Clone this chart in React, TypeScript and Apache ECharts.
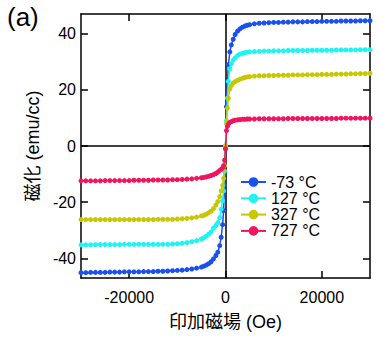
import React, { useEffect, useRef } from "react";
import * as echarts from "echarts";

const fieldOe = [
  -30000, -29000, -28000, -27000, -26000, -25000, -24000, -23000, -22000, -21000,
  -20000, -19000, -18000, -17000, -16000, -15000, -14000, -13000, -12000, -11000,
  -10000, -9000, -8000, -7000, -6000, -5000, -4500, -4000, -3500, -3000,
  -2500, -2000, -1600, -1200, -900, -600, -400, -200, 0, 200,
  400, 600, 900, 1200, 1600, 2000, 2500, 3000, 3500, 4000,
  4500, 5000, 6000, 7000, 8000, 9000, 10000, 11000, 12000, 13000,
  14000, 15000, 16000, 17000, 18000, 19000, 20000, 21000, 22000, 23000,
  24000, 25000, 26000, 27000, 28000, 29000, 30000,
];

const mBlue = [
  -45.1, -45.1, -45.0, -45.0, -45.0, -45.0, -44.9, -44.9, -44.9, -44.8,
  -44.8, -44.8, -44.8, -44.7, -44.7, -44.7, -44.6, -44.6, -44.5, -44.4,
  -44.3, -44.2, -44.0, -43.8, -43.5, -43.1, -42.8, -42.4, -41.9, -41.2,
  -40.2, -39.0, -37.8, -35.5, -32.5, -28.0, -23.0, -14.0, -1.0, 14.0,
  23.0, 29.0, 33.5, 36.0, 38.0, 39.7, 40.9, 41.7, 42.3, 42.7,
  43.0, 43.2, 43.5, 43.7, 43.8, 43.9, 44.0, 44.0, 44.1, 44.1,
  44.2, 44.2, 44.2, 44.3, 44.3, 44.3, 44.4, 44.4, 44.4, 44.4,
  44.5, 44.5, 44.5, 44.5, 44.6, 44.6, 44.6,
];

const mCyan = [
  -35.2, -35.2, -35.2, -35.1, -35.1, -35.1, -35.1, -35.1, -35.1, -35.0,
  -35.0, -35.0, -35.0, -35.0, -35.0, -35.0, -35.0, -35.0, -35.0, -34.9,
  -34.8, -34.6, -34.4, -34.1, -33.7, -33.1, -32.7, -32.1, -31.4, -30.6,
  -29.3, -28.3, -27.3, -25.5, -22.5, -19.5, -16.0, -9.0, 0.0, 9.0,
  17.0, 23.0, 27.5, 29.3, 30.6, 31.4, 32.2, 32.7, 33.0, 33.2,
  33.4, 33.5, 33.6, 33.7, 33.8, 33.8, 33.9, 33.9, 33.9, 34.0,
  34.0, 34.0, 34.0, 34.0, 34.1, 34.1, 34.1, 34.1, 34.1, 34.2,
  34.2, 34.2, 34.2, 34.2, 34.3, 34.3, 34.3,
];

const mYellow = [
  -26.2, -26.2, -26.2, -26.2, -26.2, -26.2, -26.2, -26.2, -26.2, -26.2,
  -26.2, -26.2, -26.2, -26.2, -26.2, -26.2, -26.1, -26.1, -26.1, -26.1,
  -26.0, -25.9, -25.8, -25.6, -25.3, -24.9, -24.7, -24.3, -23.8, -23.2,
  -22.3, -21.0, -19.8, -18.0, -16.0, -14.0, -11.5, -7.0, 0.0, 8.0,
  13.5, 17.0, 20.3, 21.5, 22.4, 22.9, 23.4, 23.8, 24.1, 24.4,
  24.6, 24.7, 24.9, 25.0, 25.0, 25.1, 25.1, 25.2, 25.2, 25.2,
  25.3, 25.3, 25.3, 25.4, 25.4, 25.4, 25.5, 25.5, 25.5, 25.6,
  25.6, 25.6, 25.7, 25.7, 25.8, 25.8, 25.9,
];

const mRed = [
  -12.4, -12.4, -12.4, -12.4, -12.4, -12.3, -12.3, -12.3, -12.3, -12.3,
  -12.3, -12.2, -12.2, -12.2, -12.2, -12.1, -12.1, -12.1, -12.1, -12.0,
  -12.0, -11.9, -11.8, -11.7, -11.5, -11.3, -11.2, -11.0, -10.8, -10.5,
  -10.2, -9.8, -9.3, -8.7, -8.3, -7.8, -7.0, -5.0, -1.0, 5.5,
  7.0, 7.8, 8.4, 8.7, 9.0, 9.2, 9.3, 9.4, 9.5, 9.5,
  9.6, 9.6, 9.6, 9.7, 9.7, 9.7, 9.7, 9.7, 9.7, 9.8,
  9.8, 9.8, 9.8, 9.8, 9.8, 9.8, 9.8, 9.8, 9.8, 9.8,
  9.9, 9.9, 9.9, 9.9, 9.9, 9.9, 9.9,
];

const seriesNames = ["-73 °C", "127 °C", "327 °C", "727 °C"];
const seriesValues = [mBlue, mCyan, mYellow, mRed];
const seriesColors = ["#1a4ff0", "#1ef4f4", "#c8c800", "#f2145e"];

const xTicks = [-20000, 0, 20000];
const yTicks = [-40, -20, 0, 20, 40];

const FONT = "'Liberation Sans', Arial, 'Noto Sans CJK JP', sans-serif";

export default function App() {
  const ref = useRef<HTMLDivElement>(null);

  useEffect(() => {
    if (!ref.current) return;
    const chart = echarts.init(ref.current, null, { renderer: "svg" });

    const axisLine = { show: true, onZero: false, lineStyle: { color: "#000", width: 1.5 } };
    const tick = (vals: number[]) => ({
      show: true,
      inside: true,
      length: 7,
      customValues: vals,
      lineStyle: { color: "#000", width: 1.5 },
    });

    const series: any[] = seriesNames.map((name, i) => ({
      name,
      type: "line",
      xAxisIndex: 0,
      yAxisIndex: 0,
      data: fieldOe.map((h, k) => [h, seriesValues[i][k]]),
      symbol: "circle",
      symbolSize: 5,
      showSymbol: true,
      lineStyle: { color: seriesColors[i], width: 1.5 },
      itemStyle: { color: seriesColors[i] },
      z: 3 + i,
    }));
    series[0].markLine = {
      silent: true,
      symbol: "none",
      label: { show: false },
      lineStyle: { color: "#000", width: 1.5, type: "solid" },
      z: 1,
      data: [{ xAxis: 0 }, { yAxis: 0 }],
    };

    chart.setOption({
      animation: false,
      textStyle: { fontFamily: FONT },
      grid: { left: 81, right: 11, top: 14, bottom: 64, show: false },
      legend: {
        orient: "vertical",
        left: 235,
        top: 169,
        itemWidth: 25,
        itemHeight: 12,
        itemGap: 0.3,
        data: seriesNames,
        textStyle: { fontSize: 16, color: "#000", fontFamily: FONT, lineHeight: 15 },
      },
      graphic: [
        {
          type: "text",
          left: 7,
          top: 4,
          style: { text: "(a)", fontSize: 26, fill: "#000", fontFamily: FONT },
        },
      ],
      xAxis: [
        {
          type: "value",
          min: -30000,
          max: 30000,
          position: "bottom",
          axisLine,
          axisTick: tick(xTicks),
          axisLabel: {
            customValues: xTicks,
            formatter: (v: number) => String(v),
            fontSize: 16,
            color: "#000",
            margin: 11,
            fontFamily: FONT,
          },
          splitLine: { show: false },
          name: "印加磁場 (Oe)",
          nameLocation: "middle",
          nameGap: 35,
          nameTextStyle: { fontSize: 18, color: "#000", fontFamily: FONT },
        },
        {
          type: "value",
          min: -30000,
          max: 30000,
          position: "top",
          axisLine,
          axisTick: tick(xTicks),
          axisLabel: { show: false },
          splitLine: { show: false },
        },
      ],
      yAxis: [
        {
          type: "value",
          min: -47,
          max: 47,
          position: "left",
          axisLine,
          axisTick: tick(yTicks),
          axisLabel: {
            customValues: yTicks,
            formatter: (v: number) => String(v),
            fontSize: 16,
            color: "#000",
            margin: 5,
            fontFamily: FONT,
          },
          splitLine: { show: false },
          name: "磁化 (emu/cc)",
          nameLocation: "middle",
          nameGap: 36,
          nameTextStyle: { fontSize: 18, color: "#000", fontFamily: FONT },
        },
        {
          type: "value",
          min: -47,
          max: 47,
          position: "right",
          axisLine,
          axisTick: tick(yTicks),
          axisLabel: { show: false },
          splitLine: { show: false },
        },
      ],
      series,
    });

    return () => chart.dispose();
  }, []);

  return (
    <div
      ref={ref}
      style={{ position: "absolute", left: 0, top: 0, width: 381, height: 342 }}
    />
  );
}
